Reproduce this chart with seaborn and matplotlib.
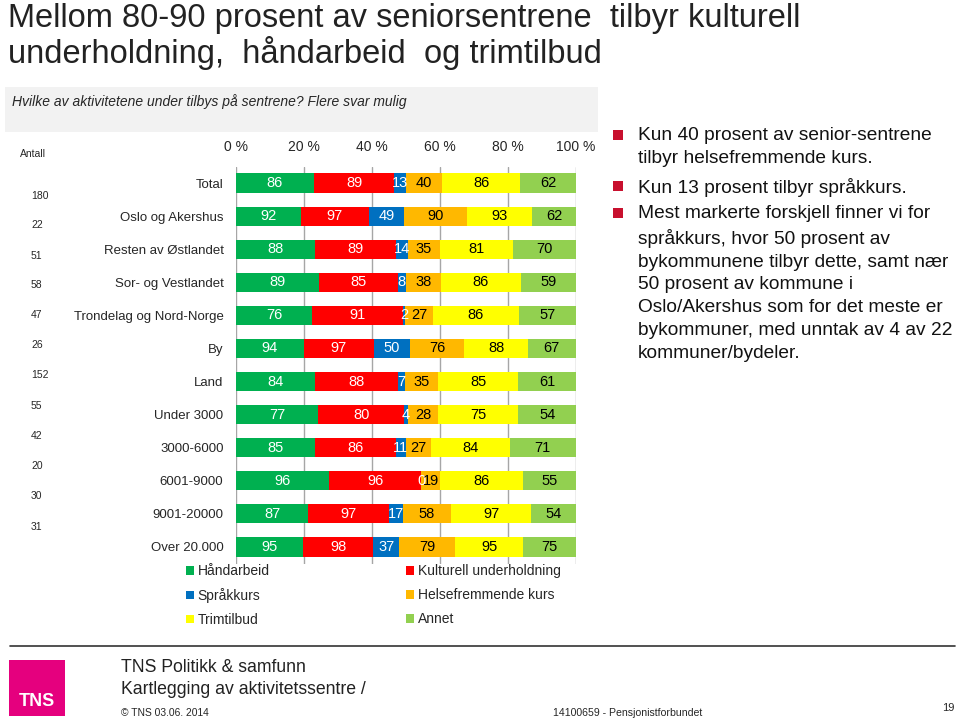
import pandas as pd
import matplotlib.pyplot as plt
import seaborn as sns
from matplotlib.patches import Patch, Rectangle

# --- data ---
categories = ["Total", "Oslo og Akershus", "Resten av Østlandet", "Sor- og Vestlandet",
              "Trondelag og Nord-Norge", "By", "Land", "Under 3000", "3000-6000",
              "6001-9000", "9001-20000", "Over 20.000"]
antall = [180, 22, 51, 58, 47, 26, 152, 55, 42, 20, 30, 31]

haandarbeid = [86, 92, 88, 89, 76, 94, 84, 77, 85, 96, 87, 95]
kulturell = [89, 97, 89, 85, 91, 97, 88, 80, 86, 96, 97, 98]
spraakkurs = [13, 49, 14, 8, 2, 50, 7, 4, 11, 0, 17, 37]
helse = [40, 90, 35, 38, 27, 76, 35, 28, 27, 19, 58, 79]
trim = [86, 93, 81, 86, 86, 88, 85, 75, 84, 86, 97, 95]
annet = [62, 62, 70, 59, 57, 67, 61, 54, 71, 55, 54, 75]

stack_order = ["Håndarbeid", "Kulturell underholdning", "Språkkurs",
               "Helsefremmende kurs", "Trimtilbud", "Annet"]
values = {
    "Håndarbeid": haandarbeid,
    "Kulturell underholdning": kulturell,
    "Språkkurs": spraakkurs,
    "Helsefremmende kurs": helse,
    "Trimtilbud": trim,
    "Annet": annet,
}
colors = {
    "Håndarbeid": "#00B050",
    "Kulturell underholdning": "#FF0000",
    "Språkkurs": "#0070C0",
    "Helsefremmende kurs": "#FFB800",
    "Trimtilbud": "#FFFF00",
    "Annet": "#92D050",
}
text_colors = {
    "Håndarbeid": "white", "Kulturell underholdning": "white", "Språkkurs": "white",
    "Helsefremmende kurs": "black", "Trimtilbud": "black", "Annet": "black",
}

# --- long table: 100% stacked shares ---
rows = []
for i, cat in enumerate(categories):
    total = sum(values[s][i] for s in stack_order)
    cum = 0.0
    for s in stack_order:
        pct = values[s][i] / total * 100
        cum += pct
        rows.append([cat, s, values[s][i], pct, cum])
df = pd.DataFrame(rows, columns=["Kategori", "Serie", "Verdi", "Andel", "Kum"])

sns.set_theme(style="white")
plt.rcParams["font.family"] = ["Liberation Sans", "DejaVu Sans"]

W, H = 960, 719
fx = lambda x: x / W
fy = lambda y: 1 - y / H

fig = plt.figure(figsize=(9.6, 7.19), dpi=100)
ax = fig.add_axes([fx(236), fy(563.5), fx(576) - fx(236), fy(166.5) - fy(563.5)])

# cumulative bars drawn back to front
for s in reversed(stack_order):
    sub = df[df["Serie"] == s]
    sns.barplot(data=sub, x="Kum", y="Kategori", order=categories, orient="h",
                color=colors[s], saturation=1, width=0.58, errorbar=None,
                linewidth=0, ax=ax)

for _, r in df.iterrows():
    ax.text(r["Kum"] - r["Andel"] / 2, categories.index(r["Kategori"]), f"{r['Verdi']}",
            ha="center", va="center", fontsize=10.5, color=text_colors[r["Serie"]])

ax.set_xlim(0, 100)
ax.set_ylim(len(categories) - 0.5, -0.5)
ax.set_xticks(range(0, 101, 20))
ax.set_xticklabels([f"{t} %" for t in range(0, 101, 20)], fontsize=10)
ax.xaxis.tick_top()
ax.tick_params(axis="x", length=0, pad=9)
ax.tick_params(axis="y", length=0, pad=9, labelsize=9.5)
ax.set_xlabel("")
ax.set_ylabel("")
ax.grid(axis="x", color="#A6A6A6", linewidth=1)
ax.set_axisbelow(True)
sns.despine(ax=ax, left=True, bottom=True, top=True, right=True)

# --- Antall column ---
fig.text(fx(33), fy(154), "Antall", fontsize=7.5, ha="center", va="center")
antall_y = [196, 225, 256, 285, 315, 345, 375, 406, 436, 466, 496, 527]
for n, y in zip(antall, antall_y):
    fig.text(fx(31), fy(y), str(n), fontsize=7.5, ha="left", va="center")

# --- legend, two columns ---
col1 = ["Håndarbeid", "Språkkurs", "Trimtilbud"]
col2 = ["Kulturell underholdning", "Helsefremmende kurs", "Annet"]
for names, x in [(col1, 186), (col2, 406)]:
    handles = [Patch(facecolor=colors[s], edgecolor="none") for s in names]
    fig.legend(handles, names, loc="upper left", bbox_to_anchor=(fx(x), fy(564)),
               frameon=False, fontsize=10, handlelength=0.6, handleheight=0.6,
               handletextpad=0.25, labelspacing=0.72, borderpad=0, borderaxespad=0)

# --- title and question box ---
fig.text(fx(8), fy(19), "Mellom 80-90 prosent av seniorsentrene  tilbyr kulturell",
         fontsize=23.5, color="#222222", va="center", ha="left")
fig.text(fx(8), fy(53), "underholdning,  håndarbeid  og trimtilbud",
         fontsize=23.5, color="#222222", va="center", ha="left")
fig.add_artist(Rectangle((fx(5), fy(132)), fx(598) - fx(5), fy(87) - fy(132),
                         transform=fig.transFigure, facecolor="#F2F2F2", edgecolor="none",
                         zorder=0))
fig.text(fx(12), fy(102), "Hvilke av aktivitetene under tilbys på sentrene? Flere svar mulig",
         fontsize=10, style="italic", va="center", ha="left")

# --- bullet text on the right ---
bullets = [
    (135, "Kun 40 prosent av senior-sentrene\ntilbyr helsefremmende kurs."),
    (186, "Kun 13 prosent tilbyr språkkurs."),
    (213, "Mest markerte forskjell finner vi for\nspråkkurs, hvor 50 prosent av\n"
          "bykommunene tilbyr dette, samt nær\n50 prosent av kommune i\n"
          "Oslo/Akershus som for det meste er\nbykommuner, med unntak av 4 av 22\n"
          "kommuner/bydeler."),
]
for y, txt in bullets:
    fig.add_artist(Rectangle((fx(613), fy(y + 5)), fx(10), 10 / H,
                             transform=fig.transFigure, facecolor="#C8102E",
                             edgecolor="none"))
    fig.text(fx(638), fy(y - 8), txt, fontsize=13.8, va="top", ha="left",
             linespacing=1.45, color="#111111")

# --- footer ---
fig.add_artist(plt.Line2D([fx(10), fx(955)], [fy(646), fy(646)], color="#333333",
                          linewidth=1.2, transform=fig.transFigure))
fig.add_artist(Rectangle((fx(9), fy(716)), fx(56), 56 / H, transform=fig.transFigure,
                         facecolor="#E5007E", edgecolor="none"))
fig.text(fx(37), fy(702), "TNS", fontsize=13, weight="bold", color="white",
         ha="center", va="center")
fig.text(fx(121), fy(667), "TNS Politikk & samfunn", fontsize=12.7, va="center", ha="left",
         color="#222222")
fig.text(fx(121), fy(689), "Kartlegging av aktivitetssentre /", fontsize=12.7, va="center",
         ha="left", color="#222222")
fig.text(fx(121), fy(713), "© TNS 03.06. 2014", fontsize=7.4, va="center", ha="left")
fig.text(fx(553), fy(713), "14100659 - Pensjonistforbundet", fontsize=7.6, va="center",
         ha="left")
fig.text(fx(948), fy(708), "19", fontsize=8, va="center", ha="center")

fig.savefig("out.png", dpi=100)
